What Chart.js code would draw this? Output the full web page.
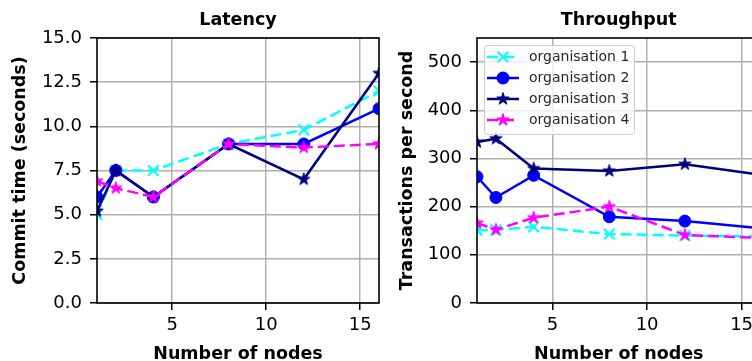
<!DOCTYPE html>
<html><head><meta charset="utf-8">
<script src="https://cdn.jsdelivr.net/npm/chart.js@4/dist/chart.umd.min.js"></script>
<style>
html,body{margin:0;padding:0;background:#fff;width:752px;height:361px;overflow:hidden;}
#wrap{position:relative;width:752px;height:361px;overflow:hidden;}
#c1{position:absolute;left:0;top:0;}
#c2{position:absolute;left:390px;top:0;}
</style></head><body>
<div id="wrap"><canvas id="c1" width="390" height="361"></canvas><canvas id="c2" width="390" height="361"></canvas></div>
<script>
// ---- data ----
const nodes = [1, 2, 4, 8, 12, 16];
const seriesNames = ['organisation 1', 'organisation 2', 'organisation 3', 'organisation 4'];
const latencyOrg1 = [5.0, 7.5, 7.5, 9.0, 9.8, 12.0];
const latencyOrg2 = [6.0, 7.5, 6.0, 9.0, 9.0, 11.0];
const latencyOrg3 = [5.2, 7.5, 6.0, 9.0, 7.0, 13.0];
const latencyOrg4 = [6.9, 6.5, 6.0, 9.0, 8.8, 9.0];
const throughputOrg1 = [151, 152, 158, 143, 140, 138];
const throughputOrg2 = [262, 219, 265, 179, 170, 155];
const throughputOrg3 = [334, 341, 279, 274, 288, 266];
const throughputOrg4 = [166, 152, 177, 200, 141, 135];
const xTicks = [5, 10, 15];
const latencyTicks = [0, 2.5, 5, 7.5, 10, 12.5, 15];
const throughputTicks = [0, 100, 200, 300, 400, 500];
const xRange = [1, 16];
const latencyRange = [0, 15];
const throughputRange = [0, 550];

// ---- styles ----
Chart.defaults.font.family = "'DejaVu Sans', sans-serif";
Chart.defaults.color = '#000';
const styles = [
  {color: '#00ffff', dash: [11, 5], marker: 'x'},
  {color: '#0000ff', dash: [], marker: 'o'},
  {color: '#000080', dash: [], marker: '*'},
  {color: '#ff00ff', dash: [11, 5], marker: '*'}
];

function drawStar(g, cx, cy, r, color) {
  g.beginPath();
  for (let i = 0; i < 10; i++) {
    const rr = i % 2 === 0 ? r : r * 0.381966;
    const a = -Math.PI / 2 + i * Math.PI / 5;
    const px = cx + rr * Math.cos(a), py = cy + rr * Math.sin(a);
    if (i === 0) g.moveTo(px, py); else g.lineTo(px, py);
  }
  g.closePath();
  g.fillStyle = color; g.fill();
  g.strokeStyle = color; g.lineWidth = 1; g.lineJoin = 'miter'; g.stroke();
}
function starCanvas(color, r) {
  const s = 2 * Math.ceil(r + 2);
  const c = document.createElement('canvas'); c.width = s; c.height = s;
  drawStar(c.getContext('2d'), s / 2, s / 2, r, color);
  return c;
}
function legendImage(st) {
  const w = 32, h = 16;
  const c = document.createElement('canvas'); c.width = w; c.height = h;
  const g = c.getContext('2d');
  g.strokeStyle = st.color; g.lineWidth = 2.5; g.setLineDash(st.dash);
  g.beginPath(); g.moveTo(0, h / 2); g.lineTo(w, h / 2); g.stroke(); g.setLineDash([]);
  const cx = w / 2, cy = h / 2;
  if (st.marker === 'x') {
    g.lineWidth = 2; g.beginPath();
    g.moveTo(cx - 5.3, cy - 5.3); g.lineTo(cx + 5.3, cy + 5.3);
    g.moveTo(cx + 5.3, cy - 5.3); g.lineTo(cx - 5.3, cy + 5.3); g.stroke();
  } else if (st.marker === 'o') {
    g.beginPath(); g.arc(cx, cy, 6.5, 0, Math.PI * 2); g.fillStyle = st.color; g.fill();
  } else {
    drawStar(g, cx, cy, 6.5, st.color);
  }
  return c;
}
const legendImages = styles.map(legendImage);

function makeDatasets(seriesList) {
  return seriesList.map((vals, i) => {
    const st = styles[i];
    const ds = {
      label: seriesNames[i],
      data: nodes.map((x, k) => ({x: x, y: vals[k]})),
      borderColor: st.color, backgroundColor: st.color,
      borderWidth: 2.5, borderDash: st.dash, tension: 0, clip: 0,
      order: seriesList.length - 1 - i,
      pointBorderColor: st.color, pointBackgroundColor: st.color
    };
    if (st.marker === 'x') { ds.pointStyle = 'crossRot'; ds.pointRadius = 7.5; ds.pointBorderWidth = 2; }
    else if (st.marker === 'o') { ds.pointStyle = 'circle'; ds.pointRadius = 6; ds.pointBorderWidth = 1; }
    else { ds.pointStyle = starCanvas(st.color, 6.5); ds.pointRadius = 6; ds.pointBorderWidth = 0; }
    ds.pointHoverRadius = ds.pointRadius;
    return ds;
  });
}

const spinePlugin = {
  id: 'spines',
  afterDatasetsDraw(chart) {
    const ctx = chart.ctx, a = chart.chartArea;
    ctx.save(); ctx.strokeStyle = '#000'; ctx.lineWidth = 1.6;
    ctx.strokeRect(a.left, a.top, a.right - a.left, a.bottom - a.top);
    ctx.restore();
  }
};

function drawLegendFrame(chart) {
  const ctx = chart.ctx, a = chart.chartArea;
  const x = a.left + 7.5, y = a.top + 7.5, w = 150, h = 89;
  ctx.save();
  ctx.beginPath(); ctx.roundRect(x, y, w, h, 3);
  ctx.fillStyle = 'rgba(255,255,255,0.8)'; ctx.fill();
  ctx.strokeStyle = '#cccccc'; ctx.lineWidth = 1; ctx.stroke();
  ctx.restore();
}
const legendInside = {
  id: 'legendInside',
  beforeLayout(chart) {
    const lg = chart.legend;
    if (lg && !lg._insidePatched) {
      lg._insidePatched = true;
      lg._layers = function () { return [{z: 10, draw: () => { drawLegendFrame(chart); lg.draw(); }}]; };
    }
  },
  afterLayout(chart) {
    const lg = chart.legend, a = chart.chartArea;
    if (!lg) return;
    lg.left = a.left; lg.top = a.top + 5; lg.right = a.right; lg.bottom = a.bottom;
    lg.width = a.right - a.left; lg.height = a.bottom - lg.top;
  }
};

function gridOpts() {
  return {color: '#b0b0b0', lineWidth: 1.5, tickLength: 7, tickColor: '#000', tickWidth: 1.5};
}

function makeChart(canvasId, cfg) {
  const isRight = cfg.legend;
  return new Chart(document.getElementById(canvasId), {
    type: 'line',
    data: {datasets: makeDatasets(cfg.series)},
    plugins: isRight ? [spinePlugin, legendInside] : [spinePlugin],
    options: {
      responsive: false, animation: false, events: [],
      layout: {padding: {left: 0, right: cfg.padRight, top: 0, bottom: 0}},
      plugins: {
        tooltip: {enabled: false},
        title: {display: true, text: cfg.title, color: '#000', fullSize: false,
                font: {size: 17.5, weight: 'bold'}, padding: {top: 9.5, bottom: 7.5}},
        legend: isRight ? {
          display: true, position: 'chartArea', align: 'start',
          labels: {
            usePointStyle: true, pointStyleWidth: 38, boxHeight: 14, padding: 7,
            color: '#262626', font: {size: 14},
            sort: (a, b) => a.datasetIndex - b.datasetIndex,
            generateLabels: (chart) => {
              const items = Chart.defaults.plugins.legend.labels.generateLabels(chart);
              items.forEach(it => { it.pointStyle = legendImages[it.datasetIndex]; it.lineWidth = 0; });
              return items;
            }
          }
        } : {display: false}
      },
      scales: {
        x: {
          type: 'linear', min: xRange[0], max: xRange[1], bounds: 'data',
          afterBuildTicks: s => { s.ticks = xTicks.map(v => ({value: v})); },
          afterFit: s => { s.height = 58; },
          ticks: {font: {size: 18}, color: '#000', padding: 5, maxRotation: 0, autoSkip: false},
          grid: gridOpts(),
          border: {display: false},
          title: {display: true, text: 'Number of nodes', color: '#000',
                  font: {size: 17.5, weight: 'bold', lineHeight: 0.8}, padding: 0}
        },
        y: {
          type: 'linear', min: cfg.yRange[0], max: cfg.yRange[1], bounds: 'data',
          afterBuildTicks: s => { s.ticks = cfg.yTicks.map(v => ({value: v})); },
          afterFit: s => { s.width = cfg.yWidth; },
          ticks: {font: {size: 18}, color: '#000', padding: 8, autoSkip: false, callback: cfg.fmt},
          grid: gridOpts(),
          border: {display: false},
          title: {display: true, text: cfg.yTitle, color: '#000',
                  font: {size: 17.5, weight: 'bold'}, padding: {top: cfg.yTitlePad, bottom: 0}}
        }
      }
    }
  });
}

makeChart('c1', {
  title: 'Latency', yTitle: 'Commit time (seconds)',
  series: [latencyOrg1, latencyOrg2, latencyOrg3, latencyOrg4],
  yRange: latencyRange, yTicks: latencyTicks, yWidth: 97, yTitlePad: 9.5,
  padRight: 11, legend: false, fmt: v => Number(v).toFixed(1)
});
makeChart('c2', {
  title: 'Throughput', yTitle: 'Transactions per second',
  series: [throughputOrg1, throughputOrg2, throughputOrg3, throughputOrg4],
  yRange: throughputRange, yTicks: throughputTicks, yWidth: 87, yTitlePad: 6.5,
  padRight: 19.5, legend: true, fmt: v => String(v)
});
</script>
</body></html>
